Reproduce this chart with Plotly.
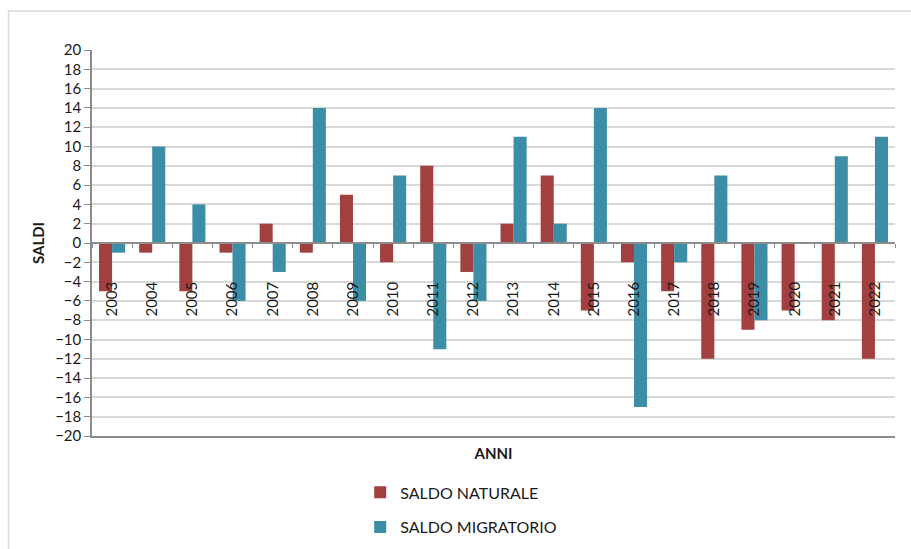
import plotly.graph_objects as go

anni = ["2003", "2004", "2005", "2006", "2007", "2008", "2009", "2010", "2011", "2012",
        "2013", "2014", "2015", "2016", "2017", "2018", "2019", "2020", "2021", "2022"]
saldo_naturale = [-5, -1, -5, -1, 2, -1, 5, -2, 8, -3, 2, 7, -7, -2, -5, -12, -9, -7, -8, -12]
saldo_migratorio = [-1, 10, 4, -6, -3, 14, -6, 7, -11, -6, 11, 2, 14, -17, -2, 7, -8, 0, 9, 11]
y_ticks = list(range(-20, 21, 2))

FONT = "Lato, 'Open Sans', sans-serif"
RED = "#A1403E"
BLUE = "#3B8EA5"
AXIS = "#8C8C8C"
TXT = "#1a1a1a"

fig = go.Figure()
fig.add_trace(go.Bar(x=anni, y=saldo_naturale, name="SALDO NATURALE",
                     marker=dict(color=RED, line=dict(width=0)), legendgroup="n"))
fig.add_trace(go.Bar(x=anni, y=saldo_migratorio, name="SALDO MIGRATORIO",
                     marker=dict(color=BLUE, line=dict(width=0)), legendgroup="m"))
# invisible trace carrying the bottom frame axis
fig.add_trace(go.Bar(x=anni, y=[None] * len(anni), xaxis="x2", showlegend=False,
                     hoverinfo="skip"))

fig.update_layout(
    width=911, height=549,
    margin=dict(l=92, r=16, t=50, b=113, autoexpand=False),
    paper_bgcolor="white", plot_bgcolor="white",
    font=dict(family=FONT, size=15, color=TXT),
    barmode="group", bargap=0.35, bargroupgap=0,
    showlegend=True,
    legend=dict(x=0.334, y=-0.102, xanchor="left", yanchor="top",
                orientation="v", font=dict(size=16, color=TXT),
                tracegroupgap=11, itemwidth=30, bgcolor="rgba(0,0,0,0)"),
    xaxis=dict(type="category", anchor="free", position=0.5,
               showline=True, linecolor=AXIS, linewidth=1.5,
               ticks="outside", ticklen=4, tickcolor=AXIS, tickson="boundaries",
               tickangle=-90, tickfont=dict(size=15, color=TXT),
               ticklabelstandoff=32, automargin=False,
               showgrid=False, zeroline=False),
    xaxis2=dict(type="category", overlaying="x", anchor="y", side="bottom",
                matches="x", showline=True, linecolor=AXIS, linewidth=1.5,
                showticklabels=False, ticks="", showgrid=False, automargin=False,
                title=dict(text="<b>ANNI</b>", font=dict(size=15, color=TXT),
                           standoff=12)),
    yaxis=dict(range=[-20, 20], tickvals=y_ticks, showline=True, linecolor=AXIS,
               linewidth=1.5, ticks="outside", ticklen=6, tickcolor=AXIS,
               showgrid=True, gridcolor="#D9D9D9", gridwidth=2, zeroline=False,
               tickfont=dict(size=15, color=TXT), automargin=False,
               title=dict(text="<b>SALDI</b>", font=dict(size=15, color=TXT),
                          standoff=7)),
    shapes=[dict(type="rect", xref="paper", yref="paper",
                 x0=-0.104, x1=1.2, y0=-0.5, y1=1.101,
                 line=dict(color="#D9D9D9", width=1.5), fillcolor="rgba(0,0,0,0)",
                 layer="below")],
)

fig.write_html("out.html")
